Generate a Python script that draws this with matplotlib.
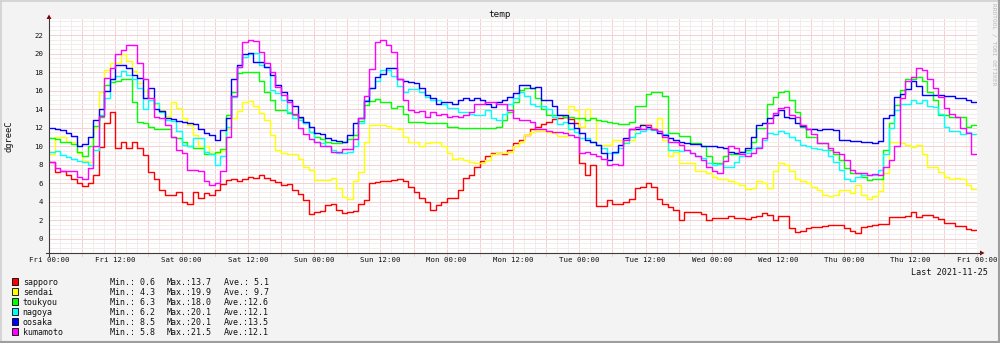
'''
temp chart (rrdtool style), one week of hourly values for six cities
'''
import matplotlib
matplotlib.use('Agg')
import matplotlib.pyplot as plt
from matplotlib.patches import Rectangle, Polygon
from matplotlib.lines import Line2D
import numpy as np

W, H = 1000, 343

# --- data -----------------------------------------------------------------
names = ['sapporo', 'sendai', 'toukyou', 'nagoya', 'oosaka', 'kumamoto']
colors = ['#ff0000', '#ffff00', '#00ff00', '#00ffff', '#0000ff', '#ff00ff']
min_vals = [0.6, 4.3, 6.3, 6.2, 8.5, 5.8]
max_vals = [13.7, 19.9, 18.0, 20.1, 20.1, 21.5]
ave_vals = [5.1, 9.7, 12.6, 12.1, 13.5, 12.1]

x_labels = ['Fri 00:00', 'Fri 12:00', 'Sat 00:00', 'Sat 12:00', 'Sun 00:00',
            'Sun 12:00', 'Mon 00:00', 'Mon 12:00', 'Tue 00:00', 'Tue 12:00',
            'Wed 00:00', 'Wed 12:00', 'Thu 00:00', 'Thu 12:00', 'Fri 00:00']
y_ticks = [0, 2, 4, 6, 8, 10, 12, 14, 16, 18, 20, 22]

# hourly values, one row = 12 hours
sapporo = [
    8.3, 7.2, 7.3, 6.9, 6.4, 6.0, 5.7, 6.0, 6.9, 9.9, 12.5, 13.7,
    9.8, 10.5, 9.8, 10.5, 9.8, 9.0, 7.2, 6.5, 5.3, 4.7, 4.7, 5.0,
    4.0, 3.8, 5.0, 4.4, 4.9, 4.7, 5.3, 5.9, 6.3, 6.4, 6.2, 6.5,
    6.7, 6.6, 6.9, 6.6, 6.3, 6.1, 5.8, 5.9, 5.3, 4.8, 4.2, 2.7,
    2.9, 3.0, 3.6, 3.7, 3.1, 2.8, 2.9, 3.0, 3.7, 4.2, 6.0, 6.1,
    6.2, 6.2, 6.3, 6.4, 6.2, 5.6, 5.1, 4.4, 4.0, 3.1, 3.6, 4.0,
    4.4, 4.4, 5.3, 6.6, 6.9, 7.8, 8.4, 8.9, 9.3, 9.3, 9.1, 9.6,
    10.3, 10.7, 11.2, 11.8, 12.1, 12.4, 12.6, 12.9, 13.0, 13.1, 12.9, 12.5,
    8.2, 6.9, 8.0, 3.5, 3.5, 4.2, 3.7, 3.8, 4.0, 4.3, 5.5, 5.6,
    6.0, 5.6, 4.3, 3.7, 3.4, 3.1, 2.0, 2.9, 2.9, 2.9, 2.7, 2.0,
    2.2, 2.2, 2.2, 2.5, 2.2, 2.2, 2.1, 2.4, 2.5, 2.8, 2.6, 2.0,
    2.5, 2.5, 1.2, 0.7, 0.8, 1.2, 1.3, 1.3, 1.4, 1.5, 1.5, 1.5,
    1.2, 0.8, 0.6, 1.3, 1.4, 1.5, 1.6, 1.6, 2.4, 2.4, 2.4, 2.5,
    2.9, 2.4, 2.6, 2.6, 2.4, 2.1, 1.7, 1.7, 1.4, 1.4, 1.1, 0.9,
]
sendai = [
    9.2, 11.0, 11.0, 10.5, 10.5, 9.3, 8.4, 8.3, 12.0, 15.9, 18.2, 19.0,
    19.0, 19.9, 19.2, 18.1, 16.8, 16.0, 15.2, 14.6, 13.9, 13.3, 14.8, 14.1,
    13.0, 12.3, 11.2, 10.0, 10.0, 9.3, 9.3, 9.5, 11.9, 13.0, 13.8, 14.8,
    14.9, 14.3, 13.6, 12.8, 11.2, 9.6, 9.3, 9.1, 9.1, 8.6, 7.7, 7.4,
    6.3, 6.3, 6.3, 6.6, 5.5, 4.5, 4.3, 6.2, 7.2, 10.5, 12.3, 12.3,
    12.3, 12.2, 12.0, 11.8, 11.0, 10.5, 10.5, 10.0, 10.3, 10.4, 10.4, 10.0,
    9.3, 8.6, 8.7, 8.5, 8.3, 8.2, 8.2, 8.5, 9.1, 9.3, 9.3, 9.4,
    10.0, 10.4, 11.2, 11.5, 11.6, 11.6, 11.5, 11.4, 11.1, 11.1, 14.3, 13.9,
    12.1, 14.0, 13.0, 10.1, 10.1, 10.1, 10.7, 10.7, 10.4, 10.7, 11.8, 12.4,
    12.4, 12.0, 13.0, 10.7, 8.9, 9.4, 8.2, 8.2, 8.2, 7.3, 7.3, 7.1,
    6.7, 6.4, 6.4, 6.2, 6.0, 5.8, 5.4, 5.5, 6.2, 6.0, 5.5, 7.3,
    8.2, 8.0, 7.3, 6.4, 6.2, 6.0, 5.6, 5.3, 4.7, 4.6, 4.7, 5.3,
    5.3, 4.9, 5.8, 4.7, 4.3, 4.6, 5.2, 7.1, 10.4, 10.4, 10.3, 10.1,
    9.9, 10.1, 9.2, 7.8, 7.8, 7.2, 6.7, 6.5, 6.6, 6.4, 5.8, 5.4,
]
toukyou = [
    10.9, 10.8, 10.5, 10.4, 10.2, 9.4, 8.9, 10.0, 12.2, 13.2, 16.6, 16.9,
    17.0, 17.3, 17.2, 14.8, 12.6, 12.5, 12.1, 11.9, 11.9, 11.8, 11.0, 10.9,
    10.5, 10.0, 9.8, 9.8, 9.1, 9.1, 9.4, 9.7, 13.4, 15.9, 17.9, 18.0,
    18.0, 18.0, 17.0, 15.9, 15.0, 13.9, 13.9, 13.6, 13.4, 13.0, 12.5, 11.5,
    11.0, 10.8, 10.5, 10.3, 10.3, 10.5, 10.8, 11.2, 12.7, 14.4, 14.9, 15.1,
    14.8, 14.8, 14.1, 14.3, 13.5, 12.6, 12.6, 12.6, 12.5, 12.5, 12.5, 12.5,
    12.1, 12.1, 12.0, 12.0, 12.0, 12.0, 12.0, 12.0, 12.0, 12.1, 12.8, 13.7,
    14.8, 16.1, 16.3, 16.3, 15.2, 14.0, 13.4, 13.4, 13.4, 13.2, 13.2, 13.0,
    13.0, 12.8, 13.0, 12.8, 12.7, 12.6, 12.5, 12.4, 12.4, 12.6, 14.3, 14.3,
    15.6, 15.8, 15.8, 15.4, 11.4, 11.4, 11.1, 11.1, 10.3, 10.3, 10.0, 8.9,
    8.2, 8.2, 8.9, 9.2, 9.2, 9.4, 9.6, 10.5, 12.0, 12.0, 14.5, 15.3,
    15.8, 16.0, 15.0, 13.7, 12.1, 11.0, 11.0, 10.3, 10.3, 9.6, 9.1, 8.5,
    7.6, 7.1, 7.1, 6.7, 6.3, 6.5, 6.5, 9.6, 12.5, 14.4, 16.1, 17.2,
    17.2, 17.5, 17.0, 15.9, 15.0, 13.4, 13.4, 13.2, 13.2, 13.2, 12.1, 12.3,
]
nagoya = [
    9.4, 9.5, 9.0, 8.8, 8.6, 8.4, 8.3, 8.0, 9.6, 13.4, 15.2, 17.2,
    17.6, 18.1, 17.7, 17.3, 16.3, 14.0, 15.0, 14.7, 13.7, 12.8, 12.7, 11.6,
    10.1, 10.0, 10.9, 10.9, 9.4, 9.1, 8.0, 8.9, 12.1, 15.3, 18.5, 19.6,
    20.0, 20.1, 18.8, 18.6, 16.1, 15.7, 15.0, 13.7, 13.0, 12.8, 12.5, 11.5,
    10.5, 10.3, 10.0, 9.6, 9.3, 9.3, 9.4, 10.0, 12.5, 15.0, 16.3, 17.0,
    18.2, 18.2, 17.6, 16.5, 15.8, 16.2, 16.2, 15.8, 15.3, 15.0, 15.0, 14.6,
    14.1, 14.1, 13.7, 13.7, 13.5, 13.4, 13.4, 13.9, 13.0, 12.8, 13.5, 14.5,
    15.2, 15.8, 15.4, 14.5, 14.3, 14.3, 14.0, 13.1, 12.4, 12.6, 11.9, 11.5,
    10.9, 10.9, 10.5, 10.1, 9.8, 9.3, 9.3, 9.8, 10.3, 11.0, 11.4, 11.6,
    11.8, 11.7, 11.6, 11.3, 9.6, 9.6, 9.5, 9.6, 9.3, 8.9, 8.7, 8.2,
    8.0, 8.1, 7.8, 7.8, 8.3, 8.9, 9.3, 9.8, 9.9, 10.7, 11.4, 11.3,
    11.6, 11.4, 11.0, 10.7, 10.1, 10.0, 9.8, 9.7, 9.6, 8.9, 8.3, 7.4,
    6.4, 6.2, 6.7, 6.9, 6.9, 6.9, 7.4, 9.2, 12.0, 13.9, 14.6, 14.6,
    15.0, 14.7, 15.0, 14.3, 14.2, 13.5, 12.1, 11.6, 11.6, 11.3, 11.5, 11.3,
]
oosaka = [
    12.0, 11.9, 11.7, 11.4, 11.1, 10.0, 10.2, 11.0, 12.8, 14.0, 16.0, 17.2,
    18.8, 18.8, 18.4, 17.7, 17.4, 15.2, 16.3, 14.0, 13.8, 13.0, 12.9, 12.7,
    12.6, 12.5, 12.4, 11.8, 11.4, 11.2, 10.7, 11.7, 13.0, 17.2, 18.8, 19.9,
    20.1, 19.1, 19.1, 18.6, 17.7, 16.6, 15.9, 15.0, 14.3, 13.2, 12.6, 12.1,
    11.4, 11.3, 10.9, 10.7, 10.6, 10.5, 11.2, 12.5, 13.0, 14.9, 16.3, 17.5,
    17.8, 18.4, 18.4, 17.2, 17.0, 16.9, 16.8, 16.3, 15.5, 15.2, 14.6, 14.8,
    14.8, 14.6, 15.0, 15.2, 15.0, 15.2, 15.0, 14.5, 14.2, 14.8, 15.0, 15.3,
    15.7, 16.6, 16.6, 16.3, 16.4, 15.0, 15.0, 14.3, 13.4, 13.4, 12.5, 12.0,
    11.4, 10.7, 10.4, 10.1, 9.3, 8.5, 9.4, 10.1, 10.9, 11.8, 11.8, 12.3,
    12.1, 11.8, 11.4, 11.2, 10.9, 10.7, 10.5, 10.3, 10.2, 10.2, 10.0, 10.0,
    10.0, 9.9, 9.8, 9.4, 9.3, 9.4, 9.8, 11.0, 12.3, 12.5, 13.0, 13.4,
    13.9, 13.2, 13.0, 12.5, 12.2, 11.8, 11.8, 11.7, 11.8, 11.8, 11.7, 10.7,
    10.7, 10.6, 10.6, 10.5, 10.5, 10.3, 10.6, 13.0, 13.4, 15.3, 15.6, 16.2,
    17.0, 16.5, 15.5, 15.5, 15.5, 15.5, 15.4, 15.4, 15.2, 15.2, 15.0, 14.8,
]
kumamoto = [
    8.3, 7.6, 7.3, 7.3, 7.3, 6.7, 6.5, 7.6, 10.0, 13.3, 17.4, 18.4,
    19.9, 20.4, 20.9, 20.9, 19.0, 17.2, 15.2, 13.2, 13.0, 12.3, 11.0, 9.6,
    9.3, 7.4, 7.4, 7.3, 6.2, 5.8, 6.0, 7.3, 11.0, 15.4, 18.5, 21.3,
    21.5, 21.4, 20.2, 19.0, 18.0, 16.4, 15.5, 14.8, 13.5, 12.0, 11.3, 10.8,
    10.5, 10.0, 10.0, 9.4, 9.4, 9.7, 9.7, 10.8, 13.0, 15.4, 18.3, 21.3,
    21.5, 20.9, 20.2, 17.3, 15.0, 13.9, 13.7, 13.8, 13.2, 13.7, 13.4, 13.5,
    13.2, 13.3, 13.2, 13.4, 13.7, 14.5, 14.5, 14.8, 14.8, 14.6, 14.5, 13.9,
    13.0, 12.8, 12.8, 12.6, 11.8, 11.8, 11.6, 11.5, 11.5, 11.4, 11.2, 11.0,
    9.3, 9.4, 9.2, 8.9, 8.6, 8.0, 8.1, 8.0, 10.7, 11.8, 12.1, 11.8,
    12.3, 11.8, 11.6, 11.0, 10.5, 10.5, 10.1, 9.6, 9.3, 8.9, 8.5, 7.8,
    7.3, 7.1, 8.4, 10.0, 9.8, 9.2, 8.9, 9.3, 9.8, 10.9, 12.5, 13.6,
    14.1, 14.2, 13.4, 13.2, 12.3, 11.8, 11.3, 10.3, 10.3, 9.8, 9.4, 9.1,
    8.5, 7.4, 7.1, 7.1, 6.9, 7.0, 6.9, 7.8, 8.5, 10.0, 15.2, 17.0,
    17.5, 18.4, 18.2, 17.2, 16.3, 15.3, 14.1, 13.5, 13.2, 12.0, 11.4, 9.1,
]
series = [sapporo, sendai, toukyou, nagoya, oosaka, kumamoto]

# --- styling ----------------------------------------------------------------
BACK = '#f3f3f3'
MINOR = '#f3ecec'
MAJOR = '#f7d0d0'
AXIS = '#3c3c3c'
ARROW = '#800000'
MONO = 'DejaVu Sans Mono'
TXT = '#111111'


def fx(px):
    return px / W


def fy(py):
    return 1 - py / H


def main():
    for s in series:
        assert len(s) == 168, len(s)

    fig = plt.figure(figsize=(W / 100, H / 100), dpi=100)
    fig.patch.set_facecolor(BACK)

    # plot area: x 49..977 px, y 19..253 px
    ax = fig.add_axes([fx(49), fy(253), (977 - 49) / W, (253 - 19) / H])
    ax.set_facecolor('white')
    ax.set_xlim(0, 168)
    ax.set_ylim(-1.54, 23.73)

    # grid: minor every 2 h / 0.5 deg, major every 6 h / 2 deg
    for h in range(2, 168, 2):
        ax.axvline(h, color=MAJOR if h % 6 == 0 else MINOR, lw=0.7, zorder=0)
    for v in np.arange(-1.5, 24.0, 0.5):
        ax.axhline(v, color=MAJOR if v % 2 == 0 else MINOR, lw=0.7, zorder=0)

    # lines (step per hour)
    edges = np.arange(169)
    for vals, col in zip(series, colors):
        y = np.append(vals, vals[-1])
        ax.step(edges, y, where='post', color=col, lw=1.0, zorder=3)

    for sp in ax.spines.values():
        sp.set_visible(False)

    ax.set_xticks(range(0, 169, 12))
    ax.set_xticklabels(x_labels, family=MONO, fontsize=5.3, color=TXT)
    ax.set_yticks(y_ticks)
    ax.set_yticklabels([str(t) for t in y_ticks], family=MONO, fontsize=5.3,
                       color=TXT)
    ax.tick_params(axis='x', length=0, pad=3.0)
    ax.tick_params(axis='y', length=0, pad=4.0)

    # small tick marks under the x axis at the 6 h lines
    for h in range(0, 169, 6):
        xp = 49 + h * (977 - 49) / 168
        fig.add_artist(Line2D([fx(xp), fx(xp)], [fy(253), fy(255.5)],
                              color=MAJOR, lw=0.7))

    # axes with arrows
    fig.add_artist(Line2D([fx(46), fx(981)], [fy(253), fy(253)],
                          color=AXIS, lw=0.8))
    fig.add_artist(Line2D([fx(49), fx(49)], [fy(256), fy(18)],
                          color=AXIS, lw=0.8))
    fig.add_artist(Polygon([(fx(980), fy(250.5)), (fx(980), fy(255.5)),
                            (fx(984.5), fy(253))], closed=True,
                           color=ARROW, lw=0))
    fig.add_artist(Polygon([(fx(46.5), fy(19)), (fx(51.5), fy(19)),
                            (fx(49), fy(14.5))], closed=True,
                           color=ARROW, lw=0))

    # texts
    fig.text(fx(500), fy(16.7), 'temp', family=MONO, fontsize=6.7,
             ha='center', va='baseline', color=TXT)
    fig.text(fx(8.5), fy(136), 'dgreeC', family=MONO, fontsize=6.3,
             rotation=90, ha='center', va='center', color=TXT)
    fig.text(fx(993.5), fy(3), 'RRDTOOL / TOBI OETIKER', family=MONO,
             fontsize=4.4, rotation=270, ha='center', va='top',
             color='#b8b8b8')
    fig.text(fx(988), fy(275), 'Last 2021-11-25', family=MONO, fontsize=6.1,
             ha='right', va='baseline', color=TXT)

    # legend
    for i, (name, col) in enumerate(zip(names, colors)):
        base = 285.3 + i * 10
        fig.add_artist(Rectangle((fx(11.5), fy(base - 0.5)), 6 / W, 6.5 / H,
                                 facecolor=col, edgecolor='black', lw=0.6))
        fig.text(fx(22.7), fy(base), name, family=MONO, fontsize=6.05,
                 ha='left', va='baseline', color=TXT)
        fig.text(fx(110), fy(base), f'Min.:{min_vals[i]:4.1f}', family=MONO,
                 fontsize=6.05, ha='left', va='baseline', color=TXT)
        fig.text(fx(167), fy(base), f'Max.:{max_vals[i]:4.1f}', family=MONO,
                 fontsize=6.05, ha='left', va='baseline', color=TXT)
        fig.text(fx(224), fy(base), f'Ave.:{ave_vals[i]:4.1f}', family=MONO,
                 fontsize=6.05, ha='left', va='baseline', color=TXT)

    # outer frame (light top/left, dark bottom/right)
    fig.add_artist(Line2D([fx(0.5), fx(999.5)], [fy(0.5), fy(0.5)],
                          color='#d0d0d0', lw=1.2))
    fig.add_artist(Line2D([fx(0.5), fx(0.5)], [fy(0.5), fy(342.5)],
                          color='#d0d0d0', lw=1.2))
    fig.add_artist(Line2D([fx(0.5), fx(999.5)], [fy(342), fy(342)],
                          color='#9e9e9e', lw=1.5))
    fig.add_artist(Line2D([fx(999), fx(999)], [fy(0.5), fy(342.5)],
                          color='#9e9e9e', lw=1.5))

    fig.savefig('out.png', dpi=100, facecolor=BACK)


if __name__ == '__main__':
    main()
